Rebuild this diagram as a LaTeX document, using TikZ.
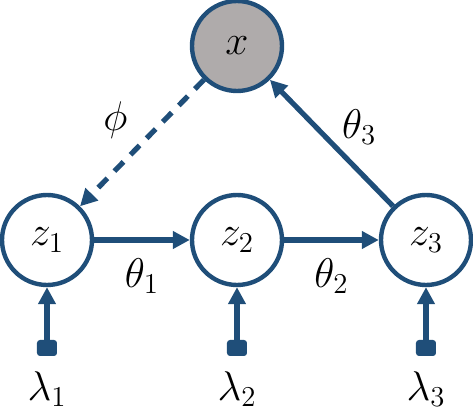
\documentclass[tikz,border=0pt]{standalone}
\usetikzlibrary{arrows.meta,positioning}
\definecolor{netblue}{HTML}{1F4E79}
\definecolor{obsgray}{HTML}{AFABAB}
\begin{document}
\begin{tikzpicture}[
                x=0.5pt, y=-0.5pt,
                latent/.style={circle, draw=netblue, line width=2.2pt, fill=white,
                    minimum size=45pt, inner sep=0pt, font=\huge},
                observed/.style={latent, fill=obsgray},
                hyper/.style={rectangle, fill=netblue, rounded corners=1.5pt,
                    minimum width=10pt, minimum height=8pt, inner sep=0pt},
                link/.style={draw=netblue, line width=2.6pt,
                    -{Triangle[length=8.5pt, width=8.5pt]}},
                guide/.style={link, dash pattern=on 6.5pt off 5pt},
                lab/.style={font=\huge, inner sep=1pt}]
        % Fixed frame of the reference picture.
        \useasboundingbox (0,0) rectangle (473,417);

        % Observed node on top, latent chain below.
        \node[observed] (x) at (237,46) {$x$};
        \node[latent] (z1) at (47,240) {$z_1$};
        \node[latent] (z2) at (237,240) {$z_2$};
        \node[latent] (z3) at (426,240) {$z_3$};

        % Hyperparameters under each latent node.
        \foreach \i/\px in {1/47,2/237,3/426} {
                \node[hyper] (h\i) at (\px,348) {};
                \node[lab] (l\i) at (\px,389) {$\lambda_{\i}$};
                \draw[link] (h\i) -- (z\i);
        }

        % Transitions along the chain and to the observation.
        \draw[link] (z1) -- node[lab, below=7pt] (t1) {$\theta_1$} (z2);
        \draw[link] (z2) -- node[lab, below=7pt] (t2) {$\theta_2$} (z3);
        \draw[link] (z3) -- node[lab, above right=-3pt and 3pt] (t3) {$\theta_3$} (x);

        % Inference path back to the first latent node.
        \draw[guide] (x) -- node[lab, above left=0pt and 5pt] (p) {$\phi$} (z1);
\end{tikzpicture}
\end{document}
